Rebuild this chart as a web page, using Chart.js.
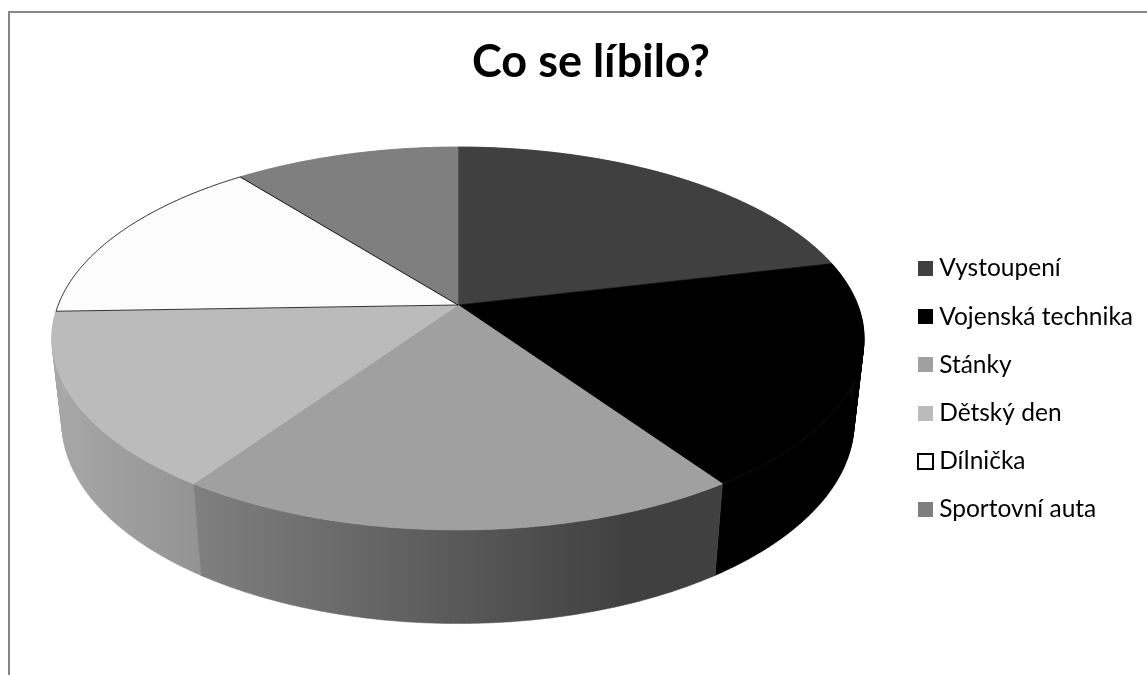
<!DOCTYPE html>
<html><head><meta charset="utf-8">
<script src="https://cdn.jsdelivr.net/npm/chart.js@4"></script>
<style>
html,body{margin:0;padding:0;background:#fff;overflow:hidden}
#frame{position:absolute;left:8px;top:11px;width:1139px;height:760px;border-top:2px solid #868686;border-left:2px solid #868686;box-sizing:border-box;background:#fff}
#frame canvas{display:block}
</style></head><body>
<div id="frame"><canvas id="c" width="1133" height="752"></canvas></div>
<script>
const categories=["Vystoupení","Vojenská technika","Stánky","Dětský den","Dílnička","Sportovní auta"];
const values=[10,9,9,7,7,5];
const topColors=["#404040","#000000","#a0a0a0","#bbbbbb","#fcfcfc","#7f7f7f"];
const sideStops=[["#404040","#404040"],["#000000","#000000"],["#808080","#404040"],["#a8a8a8","#939393"],["#fcfcfc","#fcfcfc"],["#7f7f7f","#7f7f7f"]];
const edgeColors=["#404040","#000000","#a0a0a0","#bbbbbb","#000000","#7f7f7f"];
const title="Co se líbilo?";

// perspective of the tilted disc, in canvas pixels (the frame's inside starts at 10,13)
const P={cx:448,cy:292,A:399.8,B:185.6,k:0.175,m:0.0245,C:85};
function proj(a,z){
  const u=Math.cos(a),v=Math.sin(a),w=1-P.k*v+P.m*z;
  return [P.cx+P.A*u/w,P.cy+(P.B*v+P.C*z)/w];
}
function arcPts(s,e,z){
  const n=Math.max(2,Math.ceil((e-s)/0.01)),r=[];
  for(let i=0;i<=n;i++)r.push(proj(s+(e-s)*i/n,z));
  return r;
}
const tilted={
  id:'tilted',
  beforeDatasetsDraw(chart){
    const ctx=chart.ctx,arcs=chart.getDatasetMeta(0).data;
    // side wall: back slices first, each one path of many small quads
    const order=arcs.map((el,i)=>i).sort((a,b)=>
      Math.sin((arcs[a].startAngle+arcs[a].endAngle)/2)-Math.sin((arcs[b].startAngle+arcs[b].endAngle)/2));
    order.forEach(i=>{
      const el=arcs[i];
      const t=arcPts(el.startAngle,el.endAngle,0),b=arcPts(el.startAngle,el.endAngle,1);
      const xs=t.concat(b).map(p=>p[0]);
      const x0=Math.min(...xs);
      let x1=Math.max(...xs);
      if(i===2)x1=x0+(x1-x0)*0.82;
      const g=ctx.createLinearGradient(x0,0,x1,0);
      g.addColorStop(0,sideStops[i][0]);g.addColorStop(1,sideStops[i][1]);
      ctx.beginPath();
      for(let j=0;j<t.length-1;j++){
        ctx.moveTo(t[j][0],t[j][1]);ctx.lineTo(t[j+1][0],t[j+1][1]);
        ctx.lineTo(b[j+1][0],b[j+1][1]);ctx.lineTo(b[j][0],b[j][1]);ctx.closePath();
      }
      ctx.fillStyle=g;ctx.fill();
      ctx.strokeStyle=g;ctx.lineWidth=0.5;ctx.stroke();
    });
    // top face
    const apex=[P.cx,P.cy];
    arcs.forEach((el,i)=>{
      const t=arcPts(el.startAngle,el.endAngle,0);
      ctx.beginPath();ctx.moveTo(apex[0],apex[1]);
      t.forEach(p=>ctx.lineTo(p[0],p[1]));
      ctx.closePath();ctx.fillStyle=topColors[i];ctx.fill();
      ctx.strokeStyle=topColors[i];ctx.lineWidth=0.6;ctx.stroke();
    });
    arcs.forEach((el,i)=>{
      if(edgeColors[i]===topColors[i])return;
      const t=arcPts(el.startAngle,el.endAngle,0);
      ctx.beginPath();ctx.moveTo(apex[0],apex[1]);
      t.forEach(p=>ctx.lineTo(p[0],p[1]));
      ctx.closePath();ctx.strokeStyle=edgeColors[i];ctx.lineWidth=0.8;ctx.stroke();
    });
    return false;
  }
};
const legendBoxes={
  id:'legendBoxes',
  afterDraw(chart){
    const ctx=chart.ctx,hits=chart.legend.legendHitBoxes;
    hits.forEach((h,i)=>{
      const y=Math.round(h.top+h.height/2-7.5),x=Math.round(h.left+6);
      ctx.fillStyle=topColors[i];ctx.fillRect(x,y,15,15);
      if(edgeColors[i]!==topColors[i]){
        ctx.strokeStyle="#000";ctx.lineWidth=2;ctx.strokeRect(x,y,15,15);
      }
    });
  }
};
new Chart(document.getElementById('c'),{
  type:'pie',
  data:{labels:categories,datasets:[{data:values,backgroundColor:topColors,borderWidth:0}]},
  options:{
    responsive:false,animation:false,
    layout:{padding:{top:0,right:0,bottom:0,left:29}},
    plugins:{
      tooltip:{enabled:false},
      title:{display:true,text:title,color:"#000",font:{family:"Lato",size:45,weight:"bold"},padding:{top:22,bottom:30}},
      legend:{position:'right',labels:{boxWidth:15,boxHeight:15,padding:23.7,color:"#000",font:{family:"Lato",size:24.5},
        generateLabels(chart){
          return chart.data.labels.map((t,i)=>({text:t,fillStyle:'rgba(0,0,0,0)',strokeStyle:'rgba(0,0,0,0)',lineWidth:0,hidden:false,index:i}));
        }}}
    }
  },
  plugins:[tilted,legendBoxes]
});
</script></body></html>
